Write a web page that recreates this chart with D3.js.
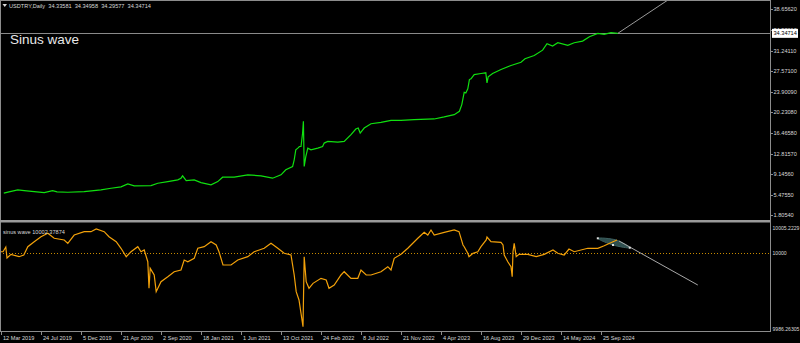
<!DOCTYPE html>
<html>
<head>
<meta charset="utf-8">
<script src="https://cdn.jsdelivr.net/npm/d3@7"></script>
<style>
body { margin: 0; background: #000; }
svg { display: block; }
text { font-family: "Liberation Sans", Arial, sans-serif; }
</style>
</head>
<body>
<div id="plot"></div>
<script>
// time axis: one label every 100 daily bars
var dateLabels = ["12 Mar 2019", "24 Jul 2019", "5 Dec 2019", "21 Apr 2020", "2 Sep 2020", "18 Jan 2021",
	"1 Jun 2021", "13 Oct 2021", "24 Feb 2022", "8 Jul 2022", "21 Nov 2022", "4 Apr 2023",
	"16 Aug 2023", "29 Dec 2023", "14 May 2024", "25 Sep 2024"];
var dateBars = [0, 100, 200, 300, 400, 500, 600, 700, 800, 900, 1000, 1100, 1200, 1300, 1400, 1500];

var priceTicks = [38.65620, 34.98610, 31.24110, 27.57100, 23.90090, 20.23080, 16.46580, 12.81570, 9.14560, 5.47550, 1.80540];
var priceTickLabels = ["38.65620", "34.98610", "31.24110", "27.57100", "23.90090", "20.23080", "16.46580", "12.81570", "9.14560", "5.47550", "1.80540"];
var waveTicks = [10005.2229, 10000, 9986.26305];
var waveTickLabels = ["10005.2229", "10000", "9986.26305"];

var header = "USDTRY,Daily  34.33581  34.34958  34.29577  34.34714";
var waveName = "sinus wave 10002.37874";
var lastPrice = 34.34714;

// [bar, close]
var priceSeries = [[7, 5.71], [20, 5.95], [42, 6.30], [58, 6.17], [83, 6.00], [108, 5.82], [129, 6.17], [140, 5.95],
	[167, 5.88], [208, 6.00], [250, 6.30], [275, 6.60], [300, 6.85], [317, 7.38], [333, 7.02], [375, 7.07], [392, 7.50],
	[417, 7.79], [442, 8.10], [450, 8.40], [454, 8.82], [463, 7.97], [483, 8.10], [500, 7.61], [525, 7.20], [542, 7.79],
	[554, 8.58], [583, 8.58], [617, 9.00], [650, 8.82], [679, 8.40], [700, 9.00], [712, 9.90], [729, 10.49], [733, 11.69],
	[737, 13.49], [742, 13.79], [746, 14.08], [750, 14.08], [754, 16.49], [756, 18.58], [758, 10.49], [762, 12.28],
	[767, 13.79], [775, 13.49], [792, 13.79], [804, 14.08], [808, 14.69], [817, 14.98], [842, 14.87], [858, 14.98],
	[875, 16.19], [887, 17.21], [893, 17.39], [898, 16.49], [908, 17.39], [925, 18.16], [950, 18.40], [975, 18.76],
	[1000, 18.76], [1033, 18.88], [1083, 19.01], [1108, 19.37], [1133, 19.78], [1146, 20.38], [1152, 21.58],
	[1156, 23.07], [1158, 23.79], [1162, 23.68], [1167, 24.40], [1171, 26.07], [1175, 26.20], [1183, 26.97],
	[1200, 27.15], [1212, 27.28], [1215, 25.48], [1218, 26.56], [1229, 27.15], [1250, 27.87], [1275, 28.59],
	[1300, 29.18], [1310, 29.79], [1333, 30.39], [1354, 31.34], [1365, 32.49], [1379, 32.06], [1392, 32.67],
	[1417, 32.19], [1433, 32.67], [1454, 32.96], [1471, 33.75], [1492, 34.34], [1508, 34.16], [1525, 34.47],
	[1542, 34.35]];

// [bar, value]
var waveSeries = [[0, 10000.31], [5, 10000.31], [12, 10001.15], [15, 9999.20], [25, 9999.85], [45, 9999.43],
	[57, 9999.73], [67, 10001.20], [83, 10002.09], [100, 10002.97], [117, 10003.57], [133, 10002.69], [158, 10002.39],
	[167, 10001.80], [183, 10003.27], [208, 10003.86], [225, 10003.86], [238, 10004.34], [258, 10003.86],
	[270, 10002.97], [288, 10002.09], [300, 10000.92], [313, 9999.43], [325, 10000.31], [342, 10001.20],
	[350, 10000.31], [358, 10000.62], [367, 9998.54], [370, 9993.83], [373, 9997.37], [383, 9996.19], [388, 9993.23],
	[400, 9995.00], [417, 9995.89], [433, 9996.77], [450, 9997.07], [458, 9998.84], [467, 9998.54], [483, 9999.14],
	[492, 10000.92], [508, 10001.20], [525, 10002.09], [538, 10001.50], [545, 10000.31], [555, 9997.96],
	[575, 9997.96], [592, 9998.84], [617, 9999.43], [633, 10000.31], [658, 10000.92], [675, 10001.80],
	[692, 10000.92], [708, 10000.03], [725, 9999.73], [733, 9996.19], [738, 9993.23], [745, 9991.76], [755, 9987.03],
	[758, 9999.43], [763, 9995.00], [770, 9993.83], [780, 9994.71], [800, 9995.60], [813, 9995.30], [820, 9993.83],
	[833, 9994.41], [850, 9996.19], [858, 9996.77], [875, 9995.60], [892, 9995.60], [900, 9997.07], [913, 9996.19],
	[925, 9996.19], [950, 9996.77], [967, 9997.66], [975, 9997.07], [983, 9999.14], [1000, 9999.85], [1017, 10000.92],
	[1042, 10002.69], [1058, 10003.75], [1067, 10003.27], [1075, 10004.16], [1083, 10003.27], [1108, 10003.75],
	[1133, 10004.16], [1145, 10003.86], [1155, 10001.50], [1158, 10001.20], [1167, 10000.03], [1170, 9999.43],
	[1180, 10000.03], [1192, 10000.31], [1200, 10001.20], [1213, 10002.39], [1215, 10002.92], [1225, 10002.09],
	[1250, 10001.98], [1255, 10001.50], [1258, 9999.73], [1267, 9998.54], [1275, 9997.66], [1278, 9995.89],
	[1280, 10000.31], [1283, 10001.80], [1288, 9999.43], [1295, 9999.85], [1317, 9999.85], [1338, 9999.43],
	[1358, 9999.85], [1380, 10000.62], [1392, 10000.03], [1408, 9999.73], [1420, 10000.79], [1433, 10000.31],
	[1467, 10000.92], [1492, 10000.92], [1508, 10001.38], [1530, 10002.09], [1540, 10002.39]];

// drawn objects, in [bar, value]
var priceTrend = [[1542, 34.35], [1670, 40.45]];
var waveTrend = [[1545, 10002.21], [1742, 9994.41]];
var waveShape = [[1492, 10002.69], [1538, 10002.39], [1572, 10001.02], [1530, 10001.50]];

var width = 800, height = 343;
var axisX = 770;
var mainTop = 1, mainBottom = 219;
var subTop = 224, subBottom = 331;
var labelColor = "#d8d8d8";
var frameColor = "#8c8c8c";

var svg = d3.select("#plot").append("svg")
	.attr("width", width)
	.attr("height", height)
	.style("background", "#000");

var x = d3.scaleLinear().domain([0, 1500]).range([1, 601]);
var y = d3.scaleLinear().domain([1.8054, 38.6562]).range([215, 9.3]);
var y2 = d3.scaleLinear().domain([9986.26305, 10005.2229]).range([subBottom, subTop]);

var defs = svg.append("defs");
defs.append("clipPath").attr("id", "clipMain")
	.append("rect").attr("x", 1).attr("y", mainTop).attr("width", axisX - 1).attr("height", mainBottom - mainTop);
defs.append("clipPath").attr("id", "clipSub")
	.append("rect").attr("x", 1).attr("y", subTop).attr("width", axisX - 1).attr("height", subBottom - subTop);

// frame
svg.append("line").attr("x1", 0.5).attr("x2", 0.5).attr("y1", 0).attr("y2", subBottom)
	.attr("stroke", frameColor);
svg.append("line").attr("x1", 0).attr("x2", axisX).attr("y1", 0.5).attr("y2", 0.5)
	.attr("stroke", frameColor);
svg.append("rect").attr("x", 0).attr("y", 220).attr("width", axisX).attr("height", 2.5)
	.attr("fill", "#9a9a9a");
svg.append("line").attr("x1", 0).attr("x2", axisX).attr("y1", subBottom + 0.5).attr("y2", subBottom + 0.5)
	.attr("stroke", frameColor);
svg.append("line").attr("x1", axisX + 0.5).attr("x2", axisX + 0.5).attr("y1", 0).attr("y2", subBottom + 1)
	.attr("stroke", frameColor);

// main pane
var main = svg.append("g").attr("clip-path", "url(#clipMain)");

main.append("line")
	.attr("x1", 0).attr("x2", axisX)
	.attr("y1", Math.round(y(lastPrice)) + 0.5).attr("y2", Math.round(y(lastPrice)) + 0.5)
	.attr("stroke", "#8a8a8a");

main.append("path")
	.datum(priceTrend)
	.attr("d", d3.line().x(function(d) { return x(d[0]); }).y(function(d) { return y(d[1]); }))
	.attr("stroke", "#9a9a9a")
	.attr("fill", "none");

main.append("path")
	.datum(priceSeries)
	.attr("d", d3.line().x(function(d) { return x(d[0]); }).y(function(d) { return y(d[1]); }))
	.attr("stroke", "#10e010")
	.attr("stroke-width", 1.2)
	.attr("fill", "none");

svg.append("path")
	.attr("d", "M2.5,4 L7,4 L4.75,7 Z")
	.attr("fill", labelColor);
svg.append("text")
	.attr("x", 9).attr("y", 7.5)
	.attr("font-size", "5.6px")
	.attr("fill", labelColor)
	.attr("xml:space", "preserve")
	.text(header);

svg.append("text")
	.attr("x", 10).attr("y", 44)
	.attr("font-size", "13.5px")
	.attr("fill", "#e8e8e8")
	.text("Sinus wave");

// price axis (the 34.98610 label sits under the price box, as in the terminal)
var pAxis = svg.append("g");
pAxis.selectAll("line")
	.data(priceTicks)
	.enter().append("line")
	.attr("x1", axisX).attr("x2", axisX + 3)
	.attr("y1", function(d) { return Math.round(y(d)) + 0.5; })
	.attr("y2", function(d) { return Math.round(y(d)) + 0.5; })
	.attr("stroke", frameColor);
pAxis.selectAll("text")
	.data(priceTicks)
	.enter().append("text")
	.attr("x", axisX + 3.5)
	.attr("y", function(d) { return y(d) + 2; })
	.attr("font-size", "5.6px")
	.attr("fill", labelColor)
	.text(function(d, i) { return priceTickLabels[i]; });

svg.append("rect")
	.attr("x", axisX + 2).attr("y", y(lastPrice) - 4.5)
	.attr("width", 26).attr("height", 9)
	.attr("fill", "#ffffff");
svg.append("text")
	.attr("x", axisX + 3.5).attr("y", y(lastPrice) + 2)
	.attr("font-size", "5.6px")
	.attr("fill", "#000")
	.text(lastPrice.toFixed(5));

// indicator pane
var sub = svg.append("g").attr("clip-path", "url(#clipSub)");

sub.append("line")
	.attr("x1", 0).attr("x2", axisX)
	.attr("y1", Math.round(y2(10000)) + 0.5).attr("y2", Math.round(y2(10000)) + 0.5)
	.attr("stroke", "#c88a00")
	.attr("stroke-dasharray", "1,2");

sub.append("path")
	.datum(waveShape)
	.attr("d", d3.line().x(function(d) { return x(d[0]); }).y(function(d) { return y2(d[1]); }).curve(d3.curveCardinalClosed))
	.attr("fill", "#2e4e4e")
	.attr("stroke", "#3e6060");

sub.append("path")
	.datum(waveTrend)
	.attr("d", d3.line().x(function(d) { return x(d[0]); }).y(function(d) { return y2(d[1]); }))
	.attr("stroke", "#a8a8a8")
	.attr("fill", "none");

sub.append("path")
	.datum(waveSeries)
	.attr("d", d3.line().x(function(d) { return x(d[0]); }).y(function(d) { return y2(d[1]); }))
	.attr("stroke", "#f2a10a")
	.attr("stroke-width", 1.2)
	.attr("fill", "none");

sub.selectAll("rect.pt")
	.data([waveShape[0], waveShape[3], waveShape[2]])
	.enter().append("rect")
	.attr("class", "pt")
	.attr("x", function(d) { return x(d[0]) - 1; })
	.attr("y", function(d) { return y2(d[1]) - 1; })
	.attr("width", 2).attr("height", 2)
	.attr("fill", "#e0e0e0");

svg.append("text")
	.attr("x", 3).attr("y", 234)
	.attr("font-size", "5.6px")
	.attr("fill", labelColor)
	.text(waveName);

var wAxis = svg.append("g");
wAxis.selectAll("text")
	.data(waveTicks)
	.enter().append("text")
	.attr("x", axisX + 2.5)
	.attr("y", function(d) { return Math.min(Math.max(y2(d), 227.5), 328.5) + 2; })
	.attr("font-size", "5.1px")
	.attr("fill", labelColor)
	.text(function(d, i) { return waveTickLabels[i]; });

// time axis
var tAxis = svg.append("g");
tAxis.selectAll("line")
	.data(dateBars)
	.enter().append("line")
	.attr("x1", function(d) { return Math.round(x(d)) + 0.5; })
	.attr("x2", function(d) { return Math.round(x(d)) + 0.5; })
	.attr("y1", subBottom + 1).attr("y2", subBottom + 4)
	.attr("stroke", frameColor);
tAxis.selectAll("text")
	.data(dateBars)
	.enter().append("text")
	.attr("x", function(d) { return x(d) + 2; })
	.attr("y", 340)
	.attr("font-size", "5.6px")
	.attr("fill", labelColor)
	.text(function(d, i) { return dateLabels[i]; });
</script>
</body>
</html>
